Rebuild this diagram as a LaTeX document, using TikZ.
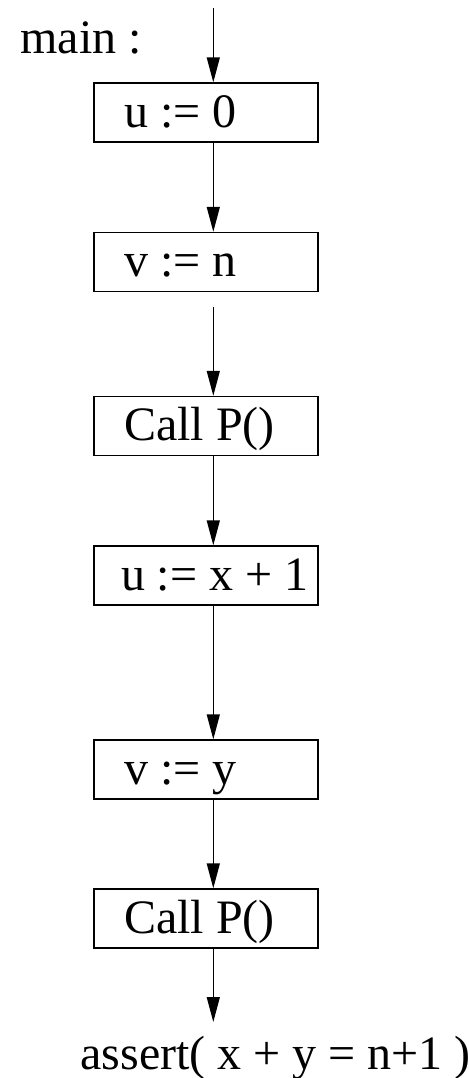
\documentclass[tikz,border=0pt]{standalone}
\usepackage{fontspec}
\setmainfont{Liberation Serif}
\usepackage{tikz}
\usetikzlibrary{arrows.meta,positioning}

\newcommand{\stmtline}[1]{\makebox[82pt][l]{#1}}

\begin{document}
\begin{tikzpicture}[
  x=0.5pt, y=-0.5pt,
  font=\fontsize{24}{28}\selectfont,
  stmt/.style={draw, line width=0.7pt, minimum width=112pt, minimum height=29.5pt,
    inner xsep=15pt, inner ysep=0pt, text height=17pt, text depth=2.5pt},
  txt/.style={inner sep=0pt, anchor=base west},
  flow/.style={-{Triangle[length=12.5pt,width=6.5pt]}, line width=0.7pt}
]
\useasboundingbox (0,0) rectangle (469,1078);

\coordinate (top) at (213.3,8);
\coordinate (tip) at (213.3,1022);

\node[txt] (main) at (20,53) {main :};
\node[stmt] (s1) at (206,112.5) {\stmtline{u := 0}};
\node[stmt] (s2) at (206,262) {\stmtline{v := n}};
\node[stmt] (s3) at (206,426) {\stmtline{Call P()}};
\node[stmt] (s4) at (206,575.5) {\stmtline{\hspace{-1.5pt}u := x + 1}};
\node[stmt] (s5) at (206,769.5) {\stmtline{v := y}};
\node[stmt] (s6) at (206,918.5) {\stmtline{Call P()}};
\node[txt] (assert) at (80,1069) {assert( x + y = n+1 )};

\draw[flow] (top) -- (s1.north -| top);
\draw[flow] (s1.south -| top) -- (s2.north -| top);
\draw[flow, shorten <=7.5pt] (s2.south -| top) -- (s3.north -| top);
\draw[flow] (s3.south -| top) -- (s4.north -| top);
\draw[flow] (s4.south -| top) -- (s5.north -| top);
\draw[flow] (s5.south -| top) -- (s6.north -| top);
\draw[flow] (s6.south -| top) -- (tip);
\end{tikzpicture}
\end{document}
